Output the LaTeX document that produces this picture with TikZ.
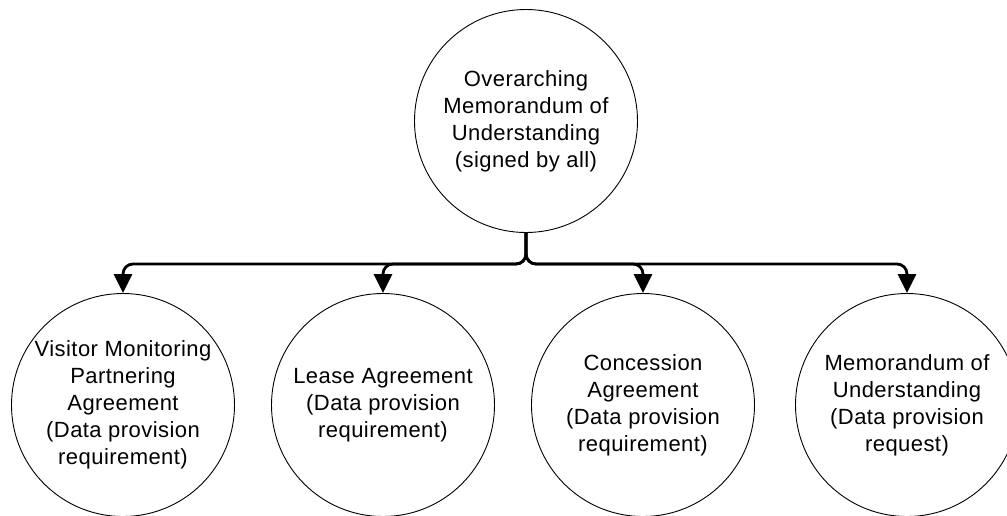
\documentclass[tikz,border=0pt]{standalone}
\usepackage{fontspec}
\setmainfont{Liberation Sans}[LetterSpace=2]
\usetikzlibrary{arrows.meta}
\begin{document}
\begin{tikzpicture}[x=1pt,y=-1pt,
  agreement/.style={circle, draw, line width=0.9pt, minimum size=223pt, inner sep=0pt,
    align=center, font=\fontsize{22}{27}\selectfont},
  link/.style={line width=2.8pt, rounded corners=10pt,
    -{Triangle[length=19pt,width=18pt]}}]
  \clip (0,0) rectangle (1007,515);
  \useasboundingbox (0,0) rectangle (1007,515);

  \node[agreement] (mou) at (526,121) {Overarching\\Memorandum of\\Understanding\\(signed by all)};

  \node[agreement] (vmpa) at (123,405) {Visitor Monitoring\\Partnering\\Agreement\\(Data provision\\requirement)};
  \node[agreement] (lease) at (383,405) {Lease Agreement\\(Data provision\\requirement)};
  \node[agreement] (conc) at (643,405) {Concession\\Agreement\\(Data provision\\requirement)};
  \node[agreement] (smou) at (907,405) {Memorandum of\\Understanding\\(Data provision\\request)};

  \coordinate (bus) at (526,264);

  \foreach \child in {vmpa,lease,conc,smou}
    \draw[link] (mou.south) |- (\child.north |- bus) -- (\child.north);
\end{tikzpicture}
\end{document}
